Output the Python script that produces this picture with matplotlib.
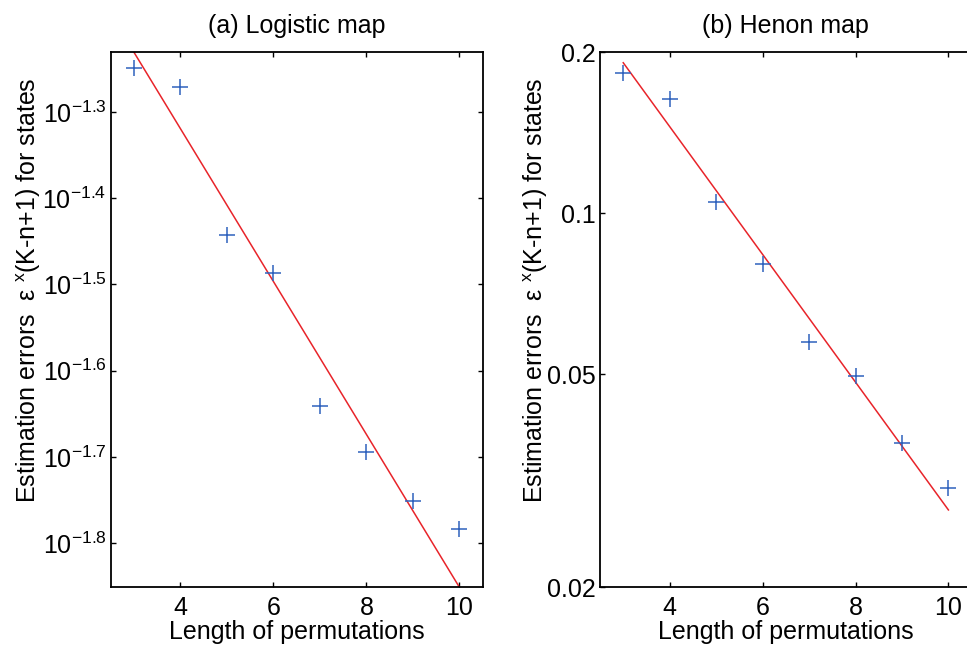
import matplotlib
matplotlib.use("Agg")
import matplotlib.pyplot as plt
from matplotlib.ticker import FixedLocator, FixedFormatter, NullLocator

plt.rcParams['font.family'] = ['Liberation Sans', 'DejaVu Sans']
plt.rcParams['mathtext.fontset'] = 'custom'
plt.rcParams['mathtext.rm'] = 'Liberation Sans'
plt.rcParams['mathtext.it'] = 'Liberation Sans'
plt.rcParams['mathtext.default'] = 'regular'

# Longitud de las permutaciones
perm_len = [3, 4, 5, 6, 7, 8, 9, 10]

# (a) mapa logistico
logistic_err = [0.05636, 0.05358, 0.03606, 0.03258, 0.02286, 0.02023, 0.01774, 0.01648]
logistic_fit_x = [3, 10]
logistic_fit_y = [0.05875, 0.01409]
logistic_ticks = [10**-1.8, 10**-1.7, 10**-1.6, 10**-1.5, 10**-1.4, 10**-1.3]
logistic_labels = ['$10^{-1.8}$', '$10^{-1.7}$', '$10^{-1.6}$',
                   '$10^{-1.5}$', '$10^{-1.4}$', '$10^{-1.3}$']

# (b) mapa de Henon
henon_err = [0.1832, 0.1636, 0.1051, 0.0803, 0.0574, 0.0497, 0.0372, 0.0307]
henon_fit_x = [3, 10]
henon_fit_y = [0.1912, 0.0279]
henon_ticks = [0.02, 0.05, 0.1, 0.2]
henon_labels = ['0.02', '0.05', '0.1', '0.2']

x_ticks = [4, 6, 8, 10]

ylabel = 'Estimation errors  ε $^{x}$(K-n+1) for states'

fig = plt.figure(figsize=(9.67, 6.48), dpi=100)
ax1 = fig.add_axes([0.1145, 0.0937, 0.3847, 0.8256])
ax2 = fig.add_axes([0.6205, 0.0937, 0.3843, 0.8256])


def dibujar(ax, err, fit_x, fit_y, yticks, ylabels, ylim, titulo, label_x):
    ax.plot(fit_x, fit_y, color='#e8242a', lw=1.1, zorder=2)
    ax.plot(perm_len, err, '+', color='#2f62bd', ms=12, mew=1.1, zorder=3)
    ax.set_yscale('log')
    ax.set_xlim(2.5, 10.5)
    ax.set_ylim(*ylim)
    ax.xaxis.set_major_locator(FixedLocator(x_ticks))
    ax.yaxis.set_major_locator(FixedLocator(yticks))
    ax.yaxis.set_major_formatter(FixedFormatter(ylabels))
    ax.yaxis.set_minor_locator(NullLocator())
    ax.tick_params(which='both', direction='in', length=3.6, width=1.0,
                   top=True, right=True, labelsize=18, pad=3)
    ax.tick_params(axis='x', pad=6)
    for s in ax.spines.values():
        s.set_linewidth(1.3)
    ax.set_title(titulo, fontsize=18, pad=14)
    ax.set_xlabel('Length of permutations', fontsize=18, labelpad=0)
    ax.set_ylabel(ylabel, fontsize=18)
    ax.yaxis.set_label_coords(label_x, 0.555)


dibujar(ax1, logistic_err, logistic_fit_x, logistic_fit_y, logistic_ticks,
        logistic_labels, (10**-1.851, 10**-1.231), '(a) Logistic map', -0.182)
dibujar(ax2, henon_err, henon_fit_x, henon_fit_y, henon_ticks,
        henon_labels, (0.02, 0.2), '(b) Henon map', -0.134)

fig.savefig('out.png', dpi=100)
